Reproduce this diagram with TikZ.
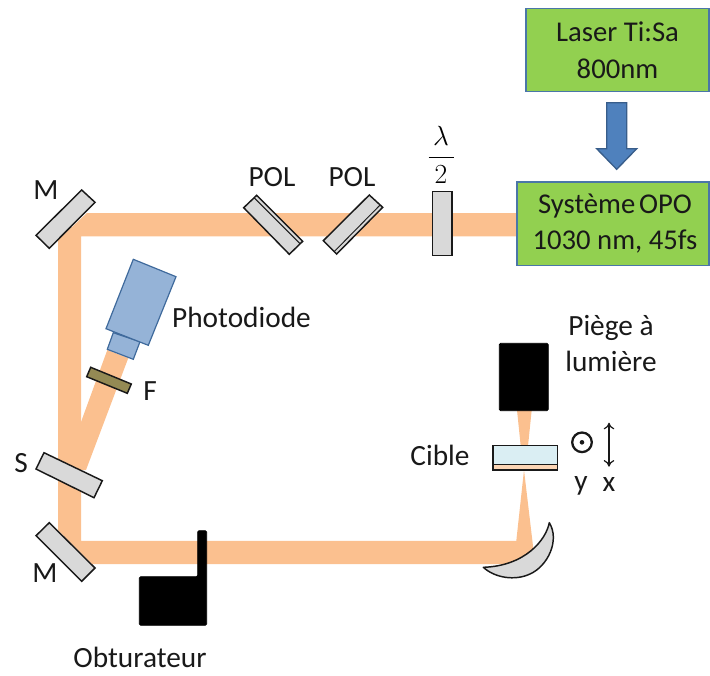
\documentclass[tikz,border=0pt]{standalone}
\usepackage{fontspec}
\usetikzlibrary{arrows.meta}
\setmainfont{Carlito}
\definecolor{beam}{HTML}{FBC08F}
\definecolor{optic}{HTML}{D9D9D9}
\definecolor{boxgreen}{HTML}{92D050}
\definecolor{boxedge}{HTML}{4A76A8}
\definecolor{diode}{HTML}{95B3D7}
\definecolor{diodeedge}{HTML}{3F6A9C}
\definecolor{filt}{HTML}{948A54}
\definecolor{arrowblue}{HTML}{4F81BD}
\definecolor{arrowedge}{HTML}{385D8A}
\definecolor{glass}{HTML}{DAEEF3}
\definecolor{peach}{HTML}{FBD5B5}
\tikzset{
  beamfill/.style={fill=beam,draw=none},
  opticpart/.style={fill=optic,draw=black!90,line width=1.1pt,line join=miter},
  blackpart/.style={fill=black,draw=black,line width=0.6pt,rounded corners=1pt},
  lbl/.style={inner sep=0pt,font=\fontsize{22}{27}\selectfont,text=black!90},
  greenbox/.style={draw=boxedge,line width=1pt,fill=boxgreen,inner sep=0pt,align=center,font=\fontsize{21.5}{27.5}\selectfont,text=black!90},
  diodepart/.style={fill=diode,draw=diodeedge,line width=0.9pt,line join=miter}
}
\begin{document}
\begin{tikzpicture}[x=0.75pt,y=-0.75pt]
\useasboundingbox (0,0) rectangle (710,675);
% beams
\fill[beamfill] (87,213) -- (518,213) -- (518,236.3) -- (81,236.3) -- (81,540.8) -- (516.3,540.8) -- (524,470) -- (533.3,548.5) -- (520,564) -- (92,564) -- (58,530) -- (58,240) -- cycle;
\fill[beamfill] (107.3,350) -- (128.3,358) -- (86,470) -- (70,470) -- (81,422) -- cycle;
\fill[beamfill] (517,410) -- (531.7,410) -- (528,446) -- (520.7,446) -- cycle;
% mirrors and polarisers
\draw[opticpart] (81.7,190) -- (95,202.3) -- (49.3,248.3) -- (36,235.3) -- cycle;
\draw[opticpart] (49.3,522.7) -- (95,568) -- (81.7,581.3) -- (36,535.7) -- cycle;
\draw[opticpart] (44,452.7) -- (102.3,480.7) -- (94,497.7) -- (36,469) -- cycle;
\draw[opticpart] (256.7,195.3) -- (302.7,241.3) -- (289.3,254.3) -- (243.7,207.7) -- cycle;
\draw[black!90,line width=0.7pt] (254.2,197.8) -- (300.2,243.8);
\draw[opticpart] (369.3,195) -- (382.7,207.3) -- (336.7,254) -- (323.3,240.7) -- cycle;
\draw[black!90,line width=0.7pt] (380.2,204.9) -- (334.2,251.6);
\draw[opticpart] (432.7,191.7) rectangle (452,255.7);
% photodiode and filter
\draw[diodepart] (113.3,332.7) -- (140,341.7) -- (133.3,359.3) -- (107.3,349.3) -- cycle;
\draw[diodepart] (133.3,259.3) -- (176,276.7) -- (148.3,345.3) -- (106,328.7) -- cycle;
\draw[fill=filt,draw=black!90,line width=1.1pt] (90.7,367.3) -- (131.3,384) -- (127.3,393.3) -- (86.7,376.7) -- cycle;
% shutter
\fill[blackpart] (139.3,576.7) -- (197.7,576.7) -- (197.7,530.7) -- (206.7,530.7) -- (206.7,625.3) -- (139.3,625.3) -- cycle;
% trap
\fill[blackpart] (499.3,343.3) rectangle (548.3,410.7);
% target
\draw[fill=glass,draw=black!90,line width=1.1pt] (493,445.3) rectangle (557.7,464.3);
\draw[fill=peach,draw=black!90,line width=1.1pt] (493,464.3) rectangle (557.7,470);
% curved mirror
\draw[opticpart,line join=round] (549.3,522.7) .. controls (546,540) and (525,566) .. (483.3,567.3)
  .. controls (495,578) and (515,581) .. (530,574) .. controls (548,566) and (560,540) .. cycle;
% laser arrow
\draw[fill=arrowblue,draw=arrowedge,line width=1pt] (606.7,102.7) -- (626.7,102.7) -- (626.7,148.7) -- (636.7,148.7) -- (616.7,169.3) -- (596.7,148.7) -- (606.7,148.7) -- cycle;
% boxes
\node[greenbox,minimum width=137.25pt,minimum height=62.25pt] (laser) at (617.5,50.2) {Laser Ti:Sa\\800nm};
\node[greenbox,minimum width=144pt,minimum height=62.4pt] (opo) at (613,223.7) {\hspace*{3pt}Système\hspace{-2pt} OPO\\\hspace*{3pt}1030 nm, 45fs};
% orientation
\draw[black!90,line width=1.7pt] (582,442.3) circle[radius=9.8];
\fill[black!90] (582,442.3) circle[radius=2.3];
\draw[black!90,line width=0.9pt,{To[length=5pt,width=8pt]}-{To[length=5pt,width=8pt]}] (609,422.7) -- (609,466.7);
% labels
\node[lbl] (lm1) at (46,190) {M};
\node[lbl] (lm2) at (45,573) {M};
\node[lbl] (ls) at (21,463) {S};
\node[lbl] (lf) at (150,391) {F};
\node[lbl] (lp1) at (272,177) {POL};
\node[lbl] (lp2) at (352,177) {POL};
\node[lbl] (lpd) at (241.5,317) {Photodiode};
\node[lbl,align=center] (ltrap) at (611,344) {Piège à\\lumière};
\node[lbl] (lc) at (440,455) {Cible};
\node[lbl] (ly) at (581,486) {y};
\node[lbl] (lx) at (609,484) {x};
\node[lbl] (lo) at (140,657) {Obturateur};
\node[inner sep=0pt,font=\fontsize{20}{24}\selectfont] (lam) at (441,155) {$\displaystyle\frac{\,\lambda\,}{2}$};
\end{tikzpicture}
\end{document}
